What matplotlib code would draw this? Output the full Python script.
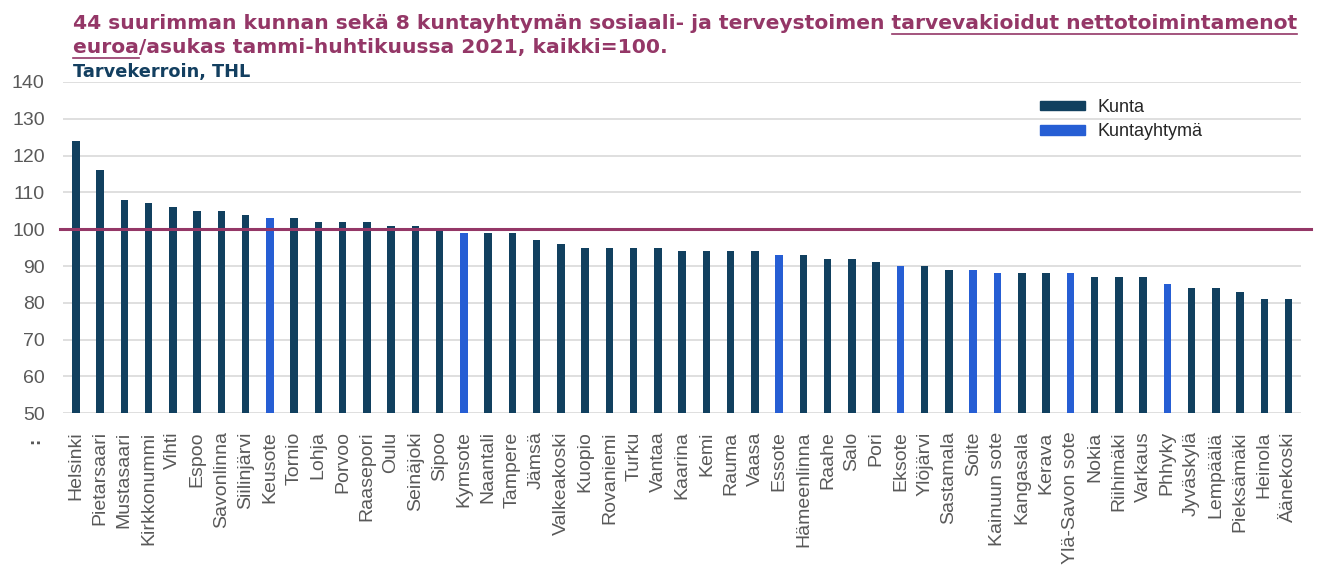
import matplotlib
matplotlib.use('Agg')
import matplotlib.pyplot as plt
from matplotlib.patches import Patch
from matplotlib.lines import Line2D
import numpy as np

# ------------------------------------------------------------------
# Data
# ------------------------------------------------------------------

NAMES = ['Helsinki', 'Pietarsaari', 'Mustasaari', 'Kirkkonummi', 'Vihti', 'Espoo',
         'Savonlinna', 'Siilinjärvi', 'Keusote', 'Tornio', 'Lohja', 'Porvoo',
         'Raasepori', 'Oulu', 'Seinäjoki', 'Sipoo', 'Kymsote', 'Naantali', 'Tampere',
         'Jämsä', 'Valkeakoski', 'Kuopio', 'Rovaniemi', 'Turku', 'Vantaa', 'Kaarina',
         'Kemi', 'Rauma', 'Vaasa', 'Essote', 'Hämeenlinna', 'Raahe', 'Salo', 'Pori',
         'Eksote', 'Ylöjärvi', 'Sastamala', 'Soite', 'Kainuun sote', 'Kangasala',
         'Kerava', 'Ylä-Savon sote', 'Nokia', 'Riihimäki', 'Varkaus', 'Phhyky',
         'Jyväskylä', 'Lempäälä', 'Pieksämäki', 'Heinola', 'Äänekoski']
VALUES = [124, 116, 108, 107, 106, 105, 105, 104, 103, 103, 102, 102, 102, 101, 101,
          100, 99, 99, 99, 97, 96, 95, 95, 95, 95, 94, 94, 94, 94, 93, 93, 92, 92, 91,
          90, 90, 89, 89, 88, 88, 88, 88, 87, 87, 87, 85, 84, 84, 83, 81, 81]
# kuntayhtymät (joint municipal authorities)
YHTYMAT = ['Keusote', 'Kymsote', 'Essote', 'Eksote', 'Soite', 'Kainuun sote',
           'Ylä-Savon sote', 'Phhyky']
REFERENCE = 100
Y_TICKS = [50, 60, 70, 80, 90, 100, 110, 120, 130, 140]

COLORS = {'kunta': '#11405f', 'yhtyma': '#265ed4'}
LABELS = {'kunta': 'Kunta', 'yhtyma': 'Kuntayhtymä'}
TITLE_COLOR = '#943767'
SUB_COLOR = '#133f60'
TICK_COLOR = '#595959'

TITLE_1A = '44 suurimman kunnan sekä 8 kuntayhtymän sosiaali- ja terveystoimen '
TITLE_1B = 'tarvevakioidut nettotoimintamenot'
TITLE_2A = 'euroa'
TITLE_2B = '/asukas tammi-huhtikuussa 2021, kaikki=100.'
SUBTITLE = 'Tarvekerroin, THL'


def main():
    W, H = 1321, 578
    fig = plt.figure(figsize=(W / 100, H / 100), dpi=100)
    ax = fig.add_axes([62.7 / W, 1 - 413.3 / H, (1300.7 - 62.7) / W, (413.3 - 82) / H])

    x = np.arange(len(NAMES))
    cols = [COLORS['yhtyma'] if n in YHTYMAT else COLORS['kunta'] for n in NAMES]
    ax.bar(x, VALUES, width=0.31, color=cols, linewidth=0, zorder=2)

    ax.axhline(REFERENCE, xmin=-0.002, xmax=1.008, color=TITLE_COLOR, lw=2.2,
               clip_on=False, zorder=3)

    ax.set_ylim(50, 140)
    ax.set_xlim(-0.54, len(NAMES) - 0.5)
    ax.set_yticks(Y_TICKS)
    ax.set_xticks(x)
    ax.set_xticklabels(NAMES, rotation=90, fontfamily='Liberation Sans')
    for lab in ax.get_yticklabels():
        lab.set_fontfamily('Liberation Sans')
    ax.tick_params(axis='both', length=0, labelsize=14, colors=TICK_COLOR)
    ax.tick_params(axis='x', pad=13)
    ax.tick_params(axis='y', pad=13)
    ax.yaxis.grid(True, color='#d9d9d9', lw=1.2, zorder=0)
    ax.set_axisbelow(True)
    for s in ax.spines.values():
        s.set_visible(False)

    handles = [Patch(color=COLORS[k], label=LABELS[k]) for k in ('kunta', 'yhtyma')]
    fig.legend(handles=handles, loc='upper left', bbox_to_anchor=(1040 / W, 1 - 99 / H),
               frameon=False, borderpad=0, borderaxespad=0, handlelength=2.5,
               handleheight=0.45, handletextpad=0.7, labelspacing=0.4,
               prop={'family': 'Liberation Sans', 'size': 13}, labelcolor='#262626')

    fig.text(35 / W, 1 - 441 / H, ':', rotation=90, ha='center', va='center',
             color=TICK_COLOR, fontsize=11, fontweight='bold')

    # title with underlined part
    tkw = dict(fontsize=14.6, fontweight='bold', family='DejaVu Sans', color=TITLE_COLOR,
               va='baseline', ha='left')
    x0 = 73 / W
    line1 = fig.text(x0, 1 - 29 / H, TITLE_1A + TITLE_1B, **tkw)
    line2 = fig.text(x0, 1 - 53 / H, TITLE_2A + TITLE_2B, **tkw)
    fig.text(x0, 1 - 77.5 / H, SUBTITLE, fontsize=12.8, fontweight='bold',
             family='DejaVu Sans', color=SUB_COLOR, va='baseline', ha='left')

    r = fig.canvas.get_renderer()
    ub = fig.text(0, 0, TITLE_1B, **tkw)
    wb = ub.get_window_extent(r).width
    ub.remove()
    ue = fig.text(0, 0, TITLE_2A, **tkw)
    we = ue.get_window_extent(r).width
    ue.remove()
    e1 = line1.get_window_extent(r)
    e2 = line2.get_window_extent(r)
    y1 = 1 - 34 / H
    y2 = 1 - 58 / H
    fig.add_artist(Line2D([(e1.x1 - wb) / W, e1.x1 / W], [y1, y1], color=TITLE_COLOR,
                          lw=1.2))
    fig.add_artist(Line2D([e2.x0 / W, (e2.x0 + we) / W], [y2, y2], color=TITLE_COLOR,
                          lw=1.2))

    fig.savefig('out.png', dpi=100)
    plt.close(fig)


if __name__ == '__main__':
    main()
